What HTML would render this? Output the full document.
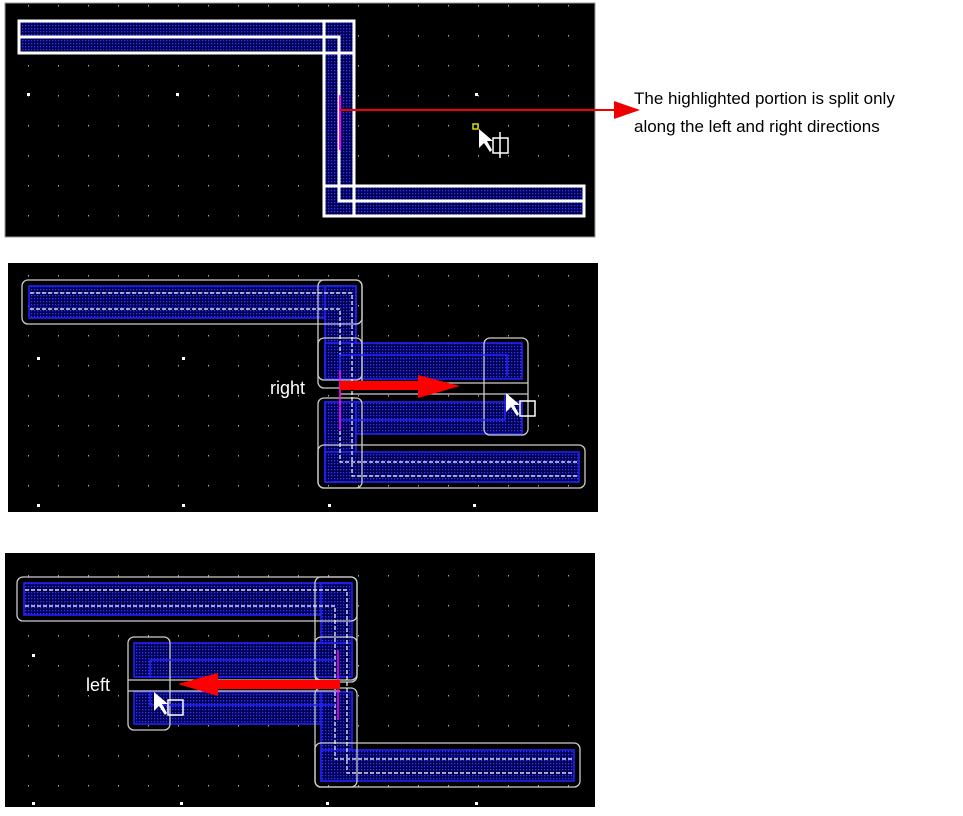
<!DOCTYPE html>
<html><head><style>body{margin:0;background:#fff;}svg{display:block}</style></head><body>
<svg width="963" height="816" viewBox="0 0 963 816" xmlns="http://www.w3.org/2000/svg" font-family="Liberation Sans, Arial, sans-serif">
<defs>
<pattern id="dp" width="3" height="3" patternUnits="userSpaceOnUse"><rect width="3" height="3" fill="#000050"/><rect x="1" y="1" width="1.3" height="1.3" fill="#3535ff"/></pattern>
<pattern id="g1" width="30" height="30" patternUnits="userSpaceOnUse" x="-1" y="5"><rect x="29" y="0" width="1.5" height="1.5" fill="#aaa"/></pattern>
</defs>
<!-- Panel 1 -->
<rect x="5" y="3" width="590" height="234" fill="#000" stroke="#999"/>
<rect x="5" y="3" width="590" height="234" fill="url(#g1)"/>
<g fill="#fff"><rect x="27" y="93" width="3" height="3"/><rect x="176" y="93" width="3" height="3"/><rect x="475" y="93" width="3" height="3"/></g>
<rect x="20" y="22" width="333" height="29" fill="url(#dp)"/>
<rect x="325" y="22" width="28" height="193" fill="url(#dp)"/>
<rect x="325" y="187" width="258" height="28" fill="url(#dp)"/>
<g fill="none" stroke="#fff" stroke-width="3">
<rect x="19" y="21" width="335" height="32"/>
<rect x="324" y="21" width="30" height="195"/>
<rect x="324" y="186" width="260" height="30"/>
<path d="M19 37 H339 V201 H584"/>
</g>
<line x1="340" y1="95" x2="340" y2="150" stroke="#ff00ff" stroke-width="2"/>
<line x1="340" y1="110" x2="618" y2="110" stroke="#e00" stroke-width="2"/>
<polygon points="614,101 640,110 614,119" fill="#e00"/>
<rect x="473" y="124" width="5" height="5" fill="none" stroke="#dd0" stroke-width="1.5"/>
<polygon points="479,129 479,148 484,143 490,152 492,150 487,141 493,141" fill="#fff"/>
<rect x="493" y="138" width="15" height="15" fill="none" stroke="#fff" stroke-width="1.5"/>
<line x1="500" y1="132" x2="500" y2="158" stroke="#fff" stroke-width="1.5"/>
<text x="634" y="104" font-size="17" fill="#000">The highlighted portion is split only</text>
<text x="634" y="132" font-size="17" fill="#000">along the left and right directions</text>

<!-- Panel 2 -->
<rect x="8" y="263" width="590" height="249" fill="#000"/>
<rect x="8" y="263" width="590" height="249" fill="url(#g1)"/>
<g fill="#fff"><rect x="37" y="357" width="3" height="3"/><rect x="182" y="357" width="3" height="3"/><rect x="37" y="504" width="3" height="3"/><rect x="182" y="504" width="3" height="3"/><rect x="328" y="504" width="3" height="3"/><rect x="473" y="504" width="3" height="3"/></g>
<g fill="url(#dp)" stroke="#22f" stroke-width="1.5">
<rect x="29" y="286" width="327" height="32"/>
<rect x="325" y="286" width="31" height="90"/>
<rect x="325" y="343" width="197" height="36"/>
<rect x="325" y="402" width="197" height="32"/>
<rect x="325" y="402" width="31" height="80"/>
<rect x="325" y="452" width="254" height="30"/>
</g>
<g fill="none" stroke="#ccc" stroke-width="1.3">
<rect x="22" y="280" width="340" height="44" rx="6"/>
<rect x="318" y="280" width="44" height="100" rx="6"/>
<rect x="318" y="338" width="44" height="50" rx="6"/>
<rect x="318" y="398" width="44" height="90" rx="6"/>
<rect x="484" y="338" width="44" height="97" rx="6"/>
<rect x="318" y="445" width="267" height="43" rx="6"/>
<line x1="340" y1="383" x2="528" y2="383"/><line x1="340" y1="394" x2="528" y2="394"/>
</g>
<g fill="none" stroke="#fff" stroke-width="1.2" stroke-dasharray="4,2">
<path d="M30 293 H352 V476 H578"/><path d="M30 309 H340 V462 H578"/>
</g>
<g fill="none" stroke="#22f" stroke-width="1.5"><path d="M340 373 V355 H507 V376"/><path d="M340 410 V420 H505 V395"/></g>
<line x1="340" y1="370" x2="340" y2="430" stroke="#ff00ff" stroke-width="1.5"/>
<rect x="340" y="381" width="80" height="9" fill="#f00"/>
<polygon points="418,375 460,386 418,398" fill="#f00"/>
<text x="270" y="394" font-size="18" fill="#fff">right</text>
<polygon points="506,393 506,412 511,407 517,416 519,414 514,405 520,405" fill="#fff"/>
<rect x="520" y="401" width="15" height="15" fill="none" stroke="#fff" stroke-width="1.5"/>

<!-- Panel 3 -->
<rect x="5" y="553" width="590" height="254" fill="#000"/>
<rect x="5" y="553" width="590" height="254" fill="url(#g1)"/>
<g fill="#fff"><rect x="32" y="654" width="3" height="3"/><rect x="180" y="654" width="3" height="3"/><rect x="32" y="802" width="3" height="3"/><rect x="180" y="802" width="3" height="3"/><rect x="326" y="802" width="3" height="3"/><rect x="475" y="802" width="3" height="3"/></g>
<g fill="url(#dp)" stroke="#22f" stroke-width="1.5">
<rect x="24" y="583" width="327" height="32"/>
<rect x="321" y="583" width="31" height="92"/>
<rect x="134" y="643" width="218" height="34"/>
<rect x="134" y="692" width="218" height="32"/>
<rect x="321" y="692" width="31" height="89"/>
<rect x="321" y="750" width="253" height="31"/>
</g>
<g fill="none" stroke="#ccc" stroke-width="1.3">
<rect x="17" y="577" width="340" height="44" rx="6"/>
<rect x="315" y="577" width="42" height="103" rx="6"/>
<rect x="315" y="637" width="42" height="45" rx="6"/>
<rect x="128" y="637" width="42" height="93" rx="6"/>
<rect x="315" y="688" width="42" height="99" rx="6"/>
<rect x="315" y="743" width="265" height="44" rx="6"/>
<line x1="128" y1="680" x2="340" y2="680"/><line x1="128" y1="691" x2="340" y2="691"/>
</g>
<g fill="none" stroke="#fff" stroke-width="1.2" stroke-dasharray="4,2">
<path d="M25 590 H347 V773 H573"/><path d="M25 606 H335 V759 H573"/>
</g>
<g fill="none" stroke="#22f" stroke-width="1.5"><path d="M335 660 H150 V678"/><path d="M335 705 H150 V692"/></g>
<line x1="338" y1="650" x2="338" y2="720" stroke="#ff00ff" stroke-width="1.5"/>
<rect x="215" y="680" width="125" height="9" fill="#f00"/>
<polygon points="218,673 178,684 218,696" fill="#f00"/>
<text x="86" y="691" font-size="18" fill="#fff">left</text>
<polygon points="154,692 154,711 159,706 165,715 167,713 162,704 168,704" fill="#fff"/>
<rect x="168" y="700" width="15" height="15" fill="none" stroke="#fff" stroke-width="1.5"/>
</svg>
</body></html>
